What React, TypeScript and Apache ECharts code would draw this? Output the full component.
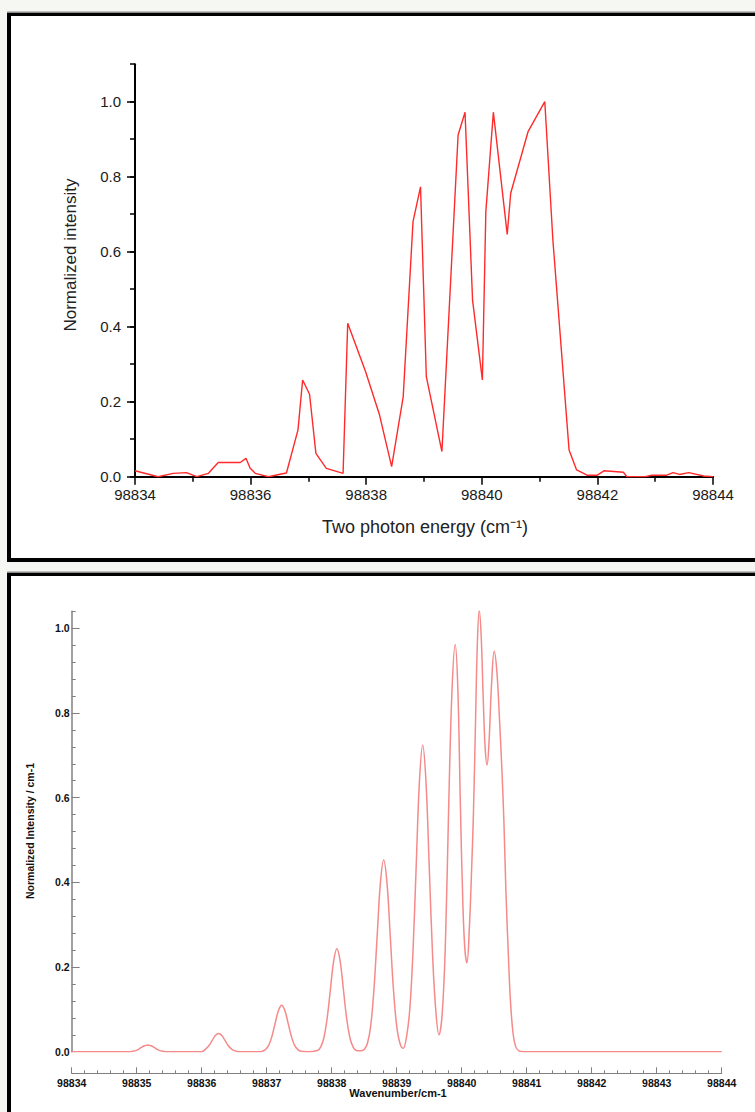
import React, { useEffect, useRef } from "react";
import * as echarts from "echarts";

// Measured two-photon spectrum (upper panel)
const measuredEnergy = [
  98834.0, 98834.4, 98834.66, 98834.89, 98835.07, 98835.27, 98835.44, 98835.82,
  98835.92, 98835.99, 98836.08, 98836.31, 98836.55, 98836.62, 98836.82, 98836.9,
  98837.02, 98837.13, 98837.31, 98837.6, 98837.68, 98837.99, 98838.23, 98838.44,
  98838.64, 98838.81, 98838.94, 98839.04, 98839.31, 98839.59, 98839.71, 98839.84,
  98840.01, 98840.07, 98840.2, 98840.44, 98840.5, 98840.8, 98841.09, 98841.23,
  98841.51, 98841.64, 98841.71, 98841.82, 98842.0, 98842.12, 98842.45, 98842.51,
  98842.83, 98842.94, 98843.2, 98843.31, 98843.42, 98843.58, 98843.84, 98844.0,
];
const measuredIntensity = [
  0.016, 0.0, 0.009, 0.011, 0.0, 0.009, 0.038, 0.038,
  0.049, 0.023, 0.009, 0.0, 0.008, 0.01, 0.125, 0.258,
  0.22, 0.062, 0.022, 0.009, 0.409, 0.28, 0.165, 0.027,
  0.213, 0.68, 0.773, 0.267, 0.067, 0.911, 0.972, 0.471,
  0.258, 0.707, 0.972, 0.646, 0.756, 0.92, 1.0, 0.631,
  0.071, 0.018, 0.013, 0.004, 0.004, 0.016, 0.012, 0.0,
  0.0, 0.004, 0.004, 0.011, 0.006, 0.011, 0.002, 0.0,
];

// Simulated spectrum (lower panel)
const simWavenumber = [
  98834.0, 98834.9, 98834.97, 98835.02, 98835.07, 98835.12, 98835.17, 98835.22,
  98835.27, 98835.32, 98835.37, 98835.45, 98836.0, 98836.06, 98836.11, 98836.16,
  98836.21, 98836.26, 98836.31, 98836.36, 98836.41, 98836.46, 98836.51, 98836.58,
  98836.9, 98836.98, 98837.03, 98837.08, 98837.13, 98837.18, 98837.23, 98837.28,
  98837.33, 98837.38, 98837.43, 98837.48, 98837.53, 98837.62, 98837.78, 98837.83,
  98837.88, 98837.93, 98837.98, 98838.03, 98838.08, 98838.13, 98838.18, 98838.23,
  98838.28, 98838.33, 98838.38, 98838.44, 98838.5, 98838.55, 98838.6, 98838.65,
  98838.7, 98838.75, 98838.8, 98838.85, 98838.9, 98838.95, 98839.0, 98839.05,
  98839.1, 98839.15, 98839.2, 98839.25, 98839.3, 98839.35, 98839.4, 98839.45,
  98839.5, 98839.55, 98839.6, 98839.65, 98839.7, 98839.75, 98839.8, 98839.85,
  98839.9, 98839.94, 98839.98, 98840.02, 98840.05, 98840.08, 98840.12, 98840.15,
  98840.18, 98840.21, 98840.24, 98840.27, 98840.3, 98840.33, 98840.36, 98840.39,
  98840.42, 98840.46, 98840.5, 98840.54, 98840.58, 98840.62, 98840.65, 98840.68,
  98840.72, 98840.75, 98840.79, 98840.83, 98840.88, 98840.95, 98844.0,
];
const simIntensity = [
  0.0, 0.0, 0.002, 0.005, 0.01, 0.014, 0.016, 0.014,
  0.01, 0.005, 0.002, 0.0, 0.0, 0.006, 0.014, 0.026,
  0.038, 0.043, 0.038, 0.026, 0.014, 0.006, 0.002, 0.0,
  0.0, 0.005, 0.015, 0.036, 0.067, 0.097, 0.11, 0.097,
  0.067, 0.036, 0.015, 0.005, 0.001, 0.0, 0.003, 0.011,
  0.033, 0.079, 0.147, 0.214, 0.243, 0.214, 0.147, 0.079,
  0.033, 0.011, 0.003, 0.002, 0.005, 0.02, 0.061, 0.147,
  0.275, 0.4, 0.453, 0.4, 0.275, 0.147, 0.061, 0.02,
  0.008, 0.034, 0.098, 0.235, 0.439, 0.639, 0.724, 0.639,
  0.439, 0.235, 0.1, 0.04, 0.09, 0.26, 0.58, 0.85,
  0.962, 0.86, 0.58, 0.34, 0.24, 0.21, 0.3, 0.42,
  0.56, 0.76, 0.96, 1.043, 0.98, 0.84, 0.72, 0.677,
  0.73, 0.87, 0.946, 0.9, 0.79, 0.66, 0.54, 0.38,
  0.22, 0.12, 0.043, 0.012, 0.002, 0.0, 0.0,
];

const X_MIN = 98834;
const X_MAX = 98844;

const pair = (xs: number[], ys: number[]) => xs.map((x, i) => [x, ys[i]]);

// Panel geometry (page pixels)
const TOP_LEFT = 135;
const TOP_RIGHT = 713;
const TOP_ZERO = 476.7;
const TOP_UNIT = 375; // px per 1.0 intensity
const BOT_LEFT = 71.7;
const BOT_RIGHT = 721.7;
const BOT_ZERO = 1051.7;
const BOT_UNIT = 423.4;
const PAGE_W = 755;
const PAGE_H = 1112;

export default function App() {
  const ref = useRef<HTMLDivElement>(null);

  useEffect(() => {
    if (!ref.current) return;
    const chart = echarts.init(ref.current, undefined, { renderer: "svg" });

    const topMax = 1.1;
    const botMax = 1.04;
    const grid = [
      {
        left: TOP_LEFT,
        width: TOP_RIGHT - TOP_LEFT,
        top: TOP_ZERO - topMax * TOP_UNIT,
        height: topMax * TOP_UNIT,
      },
      {
        left: TOP_LEFT,
        width: TOP_RIGHT - TOP_LEFT,
        top: TOP_ZERO - TOP_UNIT,
        height: TOP_UNIT,
      },
      {
        left: BOT_LEFT,
        width: BOT_RIGHT - BOT_LEFT,
        top: BOT_ZERO - botMax * BOT_UNIT,
        height: botMax * BOT_UNIT,
      },
      {
        left: BOT_LEFT,
        width: BOT_RIGHT - BOT_LEFT,
        top: BOT_ZERO - BOT_UNIT,
        height: BOT_UNIT,
      },
    ];

    const topFont = { fontFamily: "Liberation Sans, Arial, sans-serif", color: "#1a1a1a" };
    const botFont = { fontFamily: "Liberation Sans, Arial, sans-serif", color: "#111", fontWeight: "bold" as const };

    chart.setOption({
      animation: false,
      grid,
      xAxis: [
        {
          gridIndex: 0,
          type: "value",
          min: X_MIN,
          max: X_MAX,
          interval: 2,
          axisLine: { onZero: false, lineStyle: { color: "#000", width: 2 } },
          axisTick: { length: 8, lineStyle: { color: "#000", width: 1.5 } },
          minorTick: { show: true, splitNumber: 2, length: 5, lineStyle: { color: "#000", width: 1.5 } },
          axisLabel: { ...topFont, fontSize: 15, margin: 10, formatter: (v: number) => String(v) },
          splitLine: { show: false },
          minorSplitLine: { show: false },
        },
        { gridIndex: 1, type: "value", min: X_MIN, max: X_MAX, show: false },
        {
          gridIndex: 2,
          type: "value",
          min: X_MIN,
          max: X_MAX,
          interval: 1,
          offset: 21.6,
          axisLine: { onZero: false, lineStyle: { color: "#808080", width: 1.2 } },
          axisTick: { inside: true, length: 6, lineStyle: { color: "#808080", width: 1 } },
          minorTick: { show: true, splitNumber: 5, length: 3, lineStyle: { color: "#808080", width: 1 } },
          axisLabel: { ...botFont, fontSize: 10.5, margin: 4, formatter: (v: number) => String(v) },
          splitLine: { show: false },
          minorSplitLine: { show: false },
        },
        { gridIndex: 3, type: "value", min: X_MIN, max: X_MAX, show: false },
      ],
      yAxis: [
        {
          gridIndex: 0,
          type: "value",
          min: 0,
          max: topMax,
          interval: 0.1,
          axisLine: { show: true, onZero: false, lineStyle: { color: "#000", width: 2 } },
          axisTick: { show: true, length: 5, lineStyle: { color: "#000", width: 1.5 } },
          axisLabel: { show: false },
          splitLine: { show: false },
        },
        {
          gridIndex: 1,
          type: "value",
          min: 0,
          max: 1,
          interval: 0.2,
          axisLine: { show: false, onZero: false },
          axisTick: { show: true, length: 8, lineStyle: { color: "#000", width: 1.5 } },
          axisLabel: { ...topFont, fontSize: 15, margin: 14, formatter: (v: number) => v.toFixed(1) },
          splitLine: { show: false },
        },
        {
          gridIndex: 2,
          type: "value",
          min: 0,
          max: botMax,
          interval: 0.04,
          axisLine: { show: true, onZero: false, lineStyle: { color: "#808080", width: 1.5 } },
          axisTick: { show: true, inside: true, length: 4, lineStyle: { color: "#808080", width: 1 } },
          axisLabel: { show: false },
          splitLine: { show: false },
        },
        {
          gridIndex: 3,
          type: "value",
          min: 0,
          max: 1,
          interval: 0.2,
          axisLine: { show: false, onZero: false },
          axisTick: { show: true, inside: true, length: 8, lineStyle: { color: "#808080", width: 1 } },
          axisLabel: { ...botFont, fontSize: 10.5, margin: 2, formatter: (v: number) => v.toFixed(1) },
          splitLine: { show: false },
        },
      ],
      series: [
        {
          type: "line",
          xAxisIndex: 0,
          yAxisIndex: 0,
          data: pair(measuredEnergy, measuredIntensity),
          showSymbol: false,
          lineStyle: { color: "#ff2a2a", width: 1.4 },
          z: 3,
        },
        {
          type: "line",
          xAxisIndex: 2,
          yAxisIndex: 2,
          data: pair(simWavenumber, simIntensity),
          showSymbol: false,
          smooth: 0.4,
          lineStyle: { color: "#f58a8a", width: 1.5 },
          z: 3,
        },
      ],
      graphic: [
        {
          type: "text",
          x: 70,
          y: 255,
          rotation: Math.PI / 2,
          style: {
            text: "Normalized intensity",
            fontFamily: "Liberation Sans, Arial, sans-serif",
            fontSize: 17,
            fill: "#222",
            align: "center",
            verticalAlign: "middle",
          },
        },
        {
          type: "text",
          x: 425,
          y: 527,
          style: {
            text: "Two photon energy (cm⁻¹)",
            fontFamily: "Liberation Sans, Arial, sans-serif",
            fontSize: 18,
            fill: "#222",
            align: "center",
            verticalAlign: "middle",
          },
        },
        {
          type: "text",
          x: 30,
          y: 831,
          rotation: Math.PI / 2,
          style: {
            text: "Normalized Intensity / cm-1",
            fontFamily: "Liberation Sans, Arial, sans-serif",
            fontSize: 10.5,
            fontWeight: "bold",
            fill: "#111",
            align: "center",
            verticalAlign: "middle",
          },
        },
        {
          type: "text",
          x: 398,
          y: 1093,
          style: {
            text: "Wavenumber/cm-1",
            fontFamily: "Liberation Sans, Arial, sans-serif",
            fontSize: 11,
            fontWeight: "bold",
            fill: "#111",
            align: "center",
            verticalAlign: "middle",
          },
        },
      ],
    });

    return () => chart.dispose();
  }, []);

  return (
    <div
      style={{
        position: "absolute",
        left: 0,
        top: 0,
        width: PAGE_W,
        height: PAGE_H,
        background: "#f6f6f2",
        overflow: "hidden",
      }}
    >
      <div
        style={{
          position: "absolute",
          left: 7,
          top: 13,
          width: 800,
          height: 549,
          boxSizing: "border-box",
          background: "#fff",
          borderTop: "3.5px solid #000",
          borderLeft: "4px solid #000",
          borderBottom: "4px solid #000",
          boxShadow: "0 -1.5px 0 #8a8a8a",
        }}
      />
      <div
        style={{
          position: "absolute",
          left: 7,
          top: 573,
          width: 800,
          height: 600,
          boxSizing: "border-box",
          background: "#fff",
          borderTop: "3.5px solid #000",
          borderLeft: "4px solid #000",
          boxShadow: "0 -1.5px 0 #8a8a8a",
        }}
      />
      <div
        ref={ref}
        style={{ position: "absolute", left: 0, top: 0, width: PAGE_W, height: PAGE_H }}
      />
    </div>
  );
}
